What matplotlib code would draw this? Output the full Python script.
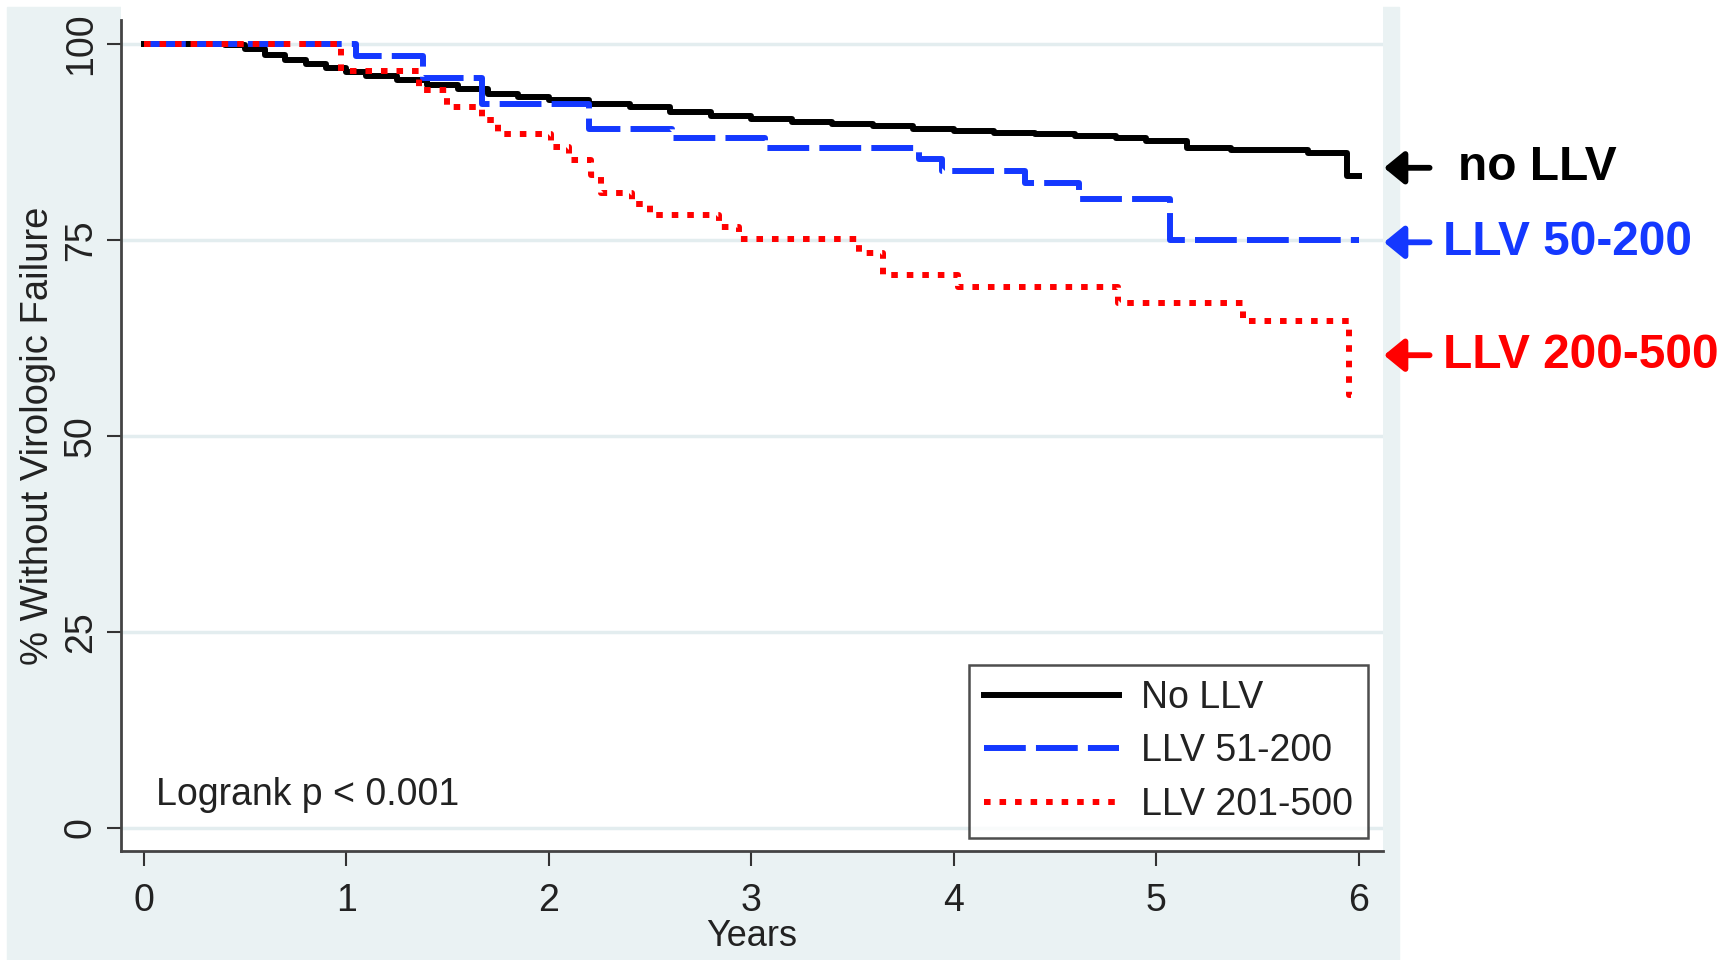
import matplotlib.pyplot as plt
from matplotlib.patches import Rectangle

plt.rcParams['font.family'] = ['Liberation Sans', 'DejaVu Sans']

# Kaplan-Meier style curves (years, % without failure)
years_no_llv = [0, 0.40, 0.50, 0.60, 0.70, 0.80, 0.90, 1.00, 1.10, 1.25, 1.40, 1.55,
                1.70, 1.85, 2.00, 2.20, 2.40, 2.60, 2.80, 3.00, 3.20, 3.40, 3.60, 3.80,
                4.00, 4.20, 4.40, 4.60, 4.80, 4.95, 5.15, 5.37, 5.75, 5.94, 6.00]
surv_no_llv = [100, 99.8, 99.3, 98.6, 97.9, 97.4, 96.9, 96.4, 95.9, 95.4, 94.8, 94.2,
               93.6, 93.2, 92.8, 92.4, 91.9, 91.3, 90.8, 90.4, 90.1, 89.8, 89.5, 89.2,
               88.9, 88.7, 88.5, 88.3, 88.0, 87.6, 86.7, 86.5, 86.1, 83.2, 83.2]

years_llv_51_200 = [0, 1.05, 1.38, 1.67, 2.20, 2.61, 3.07, 3.83, 3.94, 4.35, 4.62, 5.07, 6.00]
surv_llv_51_200 = [100, 98.4, 95.7, 92.4, 89.2, 88.0, 86.7, 85.3, 83.8, 82.2, 80.2, 75.0, 75.0]

years_llv_201_500 = [0, 0.975, 1.36, 1.50, 1.67, 1.75, 2.01, 2.10, 2.21, 2.26, 2.41, 2.50,
                     2.84, 2.94, 3.53, 3.65, 4.02, 4.81, 5.43, 5.95, 5.96]
surv_llv_201_500 = [100, 96.6, 94.1, 92.0, 90.3, 88.5, 86.9, 85.2, 83.3, 81.0, 79.6, 78.2,
                    76.7, 75.1, 73.3, 70.5, 69.0, 67.0, 64.6, 55.2, 55.2]

legend_labels = ['No LLV', 'LLV 51-200', 'LLV 201-500']
x_ticks = [0, 1, 2, 3, 4, 5, 6]
y_ticks = [0, 25, 50, 75, 100]

# side notes: (text, y position, colour)
notes = [('no LLV', 84.2, 'black'),
         ('LLV 50-200', 74.7, '#1438ff'),
         ('LLV 200-500', 60.3, '#ff0000')]

W, H = 1732, 960
fig = plt.figure(figsize=(W / 100, H / 100), dpi=100)
fig.patches.append(Rectangle((7 / W, 0), (1399 - 7) / W, (H - 7) / H,
                             transform=fig.transFigure, color='#eaf2f3', zorder=-5))

ax = fig.add_axes([121 / W, 109 / H, 1262 / W, 851 / H])
ax.set_facecolor('white')

ax.step(years_no_llv, surv_no_llv, where='post', color='black', lw=4.3,
        label=legend_labels[0], zorder=3)
ax.step(years_llv_51_200, surv_llv_51_200, where='post', color='#1438ff', lw=4.3,
        dashes=(7.0, 1.7), label=legend_labels[1], zorder=4)
ax.step(years_llv_201_500, surv_llv_201_500, where='post', color='#ff0000', lw=4.3,
        dashes=(1.1, 1.5), dash_capstyle='butt', label=legend_labels[2], zorder=5)

ax.set_xlim(-0.112, 6.12)
ax.set_ylim(-2.93, 105.6)
ax.set_xticks(x_ticks)
ax.set_yticks(y_ticks)
ax.tick_params(axis='x', labelsize=27, length=11, width=1.5, color='#333',
               labelcolor='#222', pad=12)
ax.tick_params(axis='y', labelsize=27, length=10, width=1.5, color='#333',
               labelcolor='#222', pad=6)
for lab in ax.get_yticklabels():
    lab.set_rotation(90)
    lab.set_va('center')

ax.yaxis.grid(True, color='#e3edef', lw=2.5)
ax.set_axisbelow(True)
for side in ['top', 'right']:
    ax.spines[side].set_visible(False)
for side in ['left', 'bottom']:
    ax.spines[side].set_color('#444')
    ax.spines[side].set_linewidth(2)
ax.spines['left'].set_bounds(-2.93, 103.1)

ax.set_ylabel('% Without Virologic Failure', fontsize=27.5, color='#222', va='center')
ax.yaxis.set_label_coords(-0.066, 0.488)
ax.set_xlabel('Years', fontsize=26, color='#222', va='center')
ax.xaxis.set_label_coords(0.5, -0.1)

ax.text(0.028, 4.2, 'Logrank p < 0.001', transform=ax.get_yaxis_transform(),
        fontsize=27, color='#222', va='center')

leg = ax.legend(loc='lower right', bbox_to_anchor=(1368 / W, 122 / H),
                bbox_transform=fig.transFigure, fontsize=27, frameon=True,
                fancybox=False, handlelength=3.6, handletextpad=0.6,
                labelspacing=0.47, borderpad=0.4, borderaxespad=0)
leg.get_frame().set_edgecolor('#222')
leg.get_frame().set_linewidth(1.8)
for t in leg.get_texts():
    t.set_color('#222')

for text, y, color in notes:
    ax.annotate('', xy=(6.125, y), xytext=(6.35, y), annotation_clip=False,
                arrowprops=dict(arrowstyle='-|>,head_length=0.55,head_width=0.45',
                                mutation_scale=22, lw=4.2, color=color,
                                shrinkA=0, shrinkB=0))
    ax.text(6.415 if text != 'no LLV' else 6.49, y, text, fontsize=34.5,
            fontweight='bold', color=color, va='center', ha='left', clip_on=False)

fig.savefig('out.png', dpi=100)
